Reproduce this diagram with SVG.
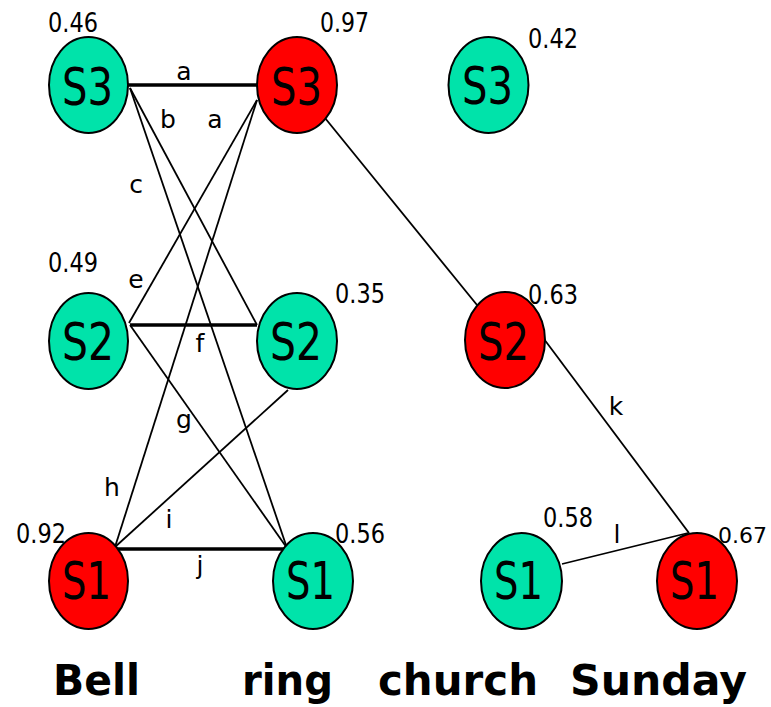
<svg xmlns="http://www.w3.org/2000/svg" width="771" height="707" viewBox="0 0 771 707">
<style>
.teal{fill:#00E3AA;stroke:#000;stroke-width:2}
.red{fill:#FF0000;stroke:#000;stroke-width:2}
.nl{font-family:"DejaVu Sans","Liberation Sans",sans-serif;font-size:51px;text-anchor:middle;fill:#000}
.sc{font-family:"DejaVu Sans","Liberation Sans",sans-serif;font-size:26px;fill:#000}
.el{font-family:"DejaVu Sans","Liberation Sans",sans-serif;font-size:25px;fill:#000;text-anchor:middle}
.w{font-family:"DejaVu Sans","Liberation Sans",sans-serif;font-size:43px;font-weight:bold;fill:#000}
.thin{stroke:#000;stroke-width:1.8;fill:none}
.thick{stroke:#000;stroke-width:3.5;fill:none}
</style>
<rect width="771" height="707" fill="#fff"/>
<g id="connectors">
<line class="thick" x1="128" y1="85" x2="257" y2="85"/>
<line class="thin" x1="130" y1="88" x2="257" y2="325"/>
<line class="thin" x1="130" y1="88" x2="287" y2="548"/>
<line class="thin" x1="257" y1="100" x2="129" y2="323"/>
<line class="thin" x1="257" y1="100" x2="115" y2="547"/>
<line class="thin" x1="325" y1="118" x2="477" y2="305"/>
<line class="thick" x1="130" y1="325" x2="257" y2="325"/>
<line class="thin" x1="130" y1="325" x2="287" y2="548"/>
<line class="thin" x1="288" y1="390" x2="115" y2="547"/>
<line class="thick" x1="115" y1="549" x2="287" y2="549"/>
<line class="thin" x1="544" y1="339" x2="689" y2="533"/>
<line class="thin" x1="562" y1="564" x2="688" y2="533"/>
<text class="el" x="184" y="80">a</text>
<text class="el" x="168" y="128">b</text>
<text class="el" x="215" y="128">a</text>
<text class="el" x="136" y="193">c</text>
<text class="el" x="136" y="288">e</text>
<text class="el" x="200" y="352">f</text>
<text class="el" x="184" y="428">g</text>
<text class="el" x="112" y="496">h</text>
<text class="el" x="169" y="528">i</text>
<text class="el" x="200" y="574">j</text>
<text class="el" x="616" y="415">k</text>
<text class="el" x="617" y="543">l</text>
</g>
<g id="bell-s3"><ellipse class="teal" cx="88.5" cy="85" rx="39.5" ry="48"/><text class="nl" x="87.5" y="105" textLength="51" lengthAdjust="spacingAndGlyphs">S3</text><text class="sc" x="48" y="32" textLength="50" lengthAdjust="spacingAndGlyphs">0.46</text></g>
<g id="ring-s3"><ellipse class="red" cx="297" cy="85" rx="40" ry="48"/><text class="nl" x="296.5" y="105" textLength="51" lengthAdjust="spacingAndGlyphs">S3</text><text class="sc" x="320" y="32" textLength="49" lengthAdjust="spacingAndGlyphs">0.97</text></g>
<g id="church-s3"><ellipse class="teal" cx="488.5" cy="85" rx="40" ry="48"/><text class="nl" x="487.5" y="104" textLength="51" lengthAdjust="spacingAndGlyphs">S3</text><text class="sc" x="528" y="48" textLength="50" lengthAdjust="spacingAndGlyphs">0.42</text></g>
<g id="bell-s2"><ellipse class="teal" cx="88.5" cy="341" rx="39.5" ry="48"/><text class="nl" x="88" y="360" textLength="52" lengthAdjust="spacingAndGlyphs">S2</text><text class="sc" x="48" y="272" textLength="50" lengthAdjust="spacingAndGlyphs">0.49</text></g>
<g id="ring-s2"><ellipse class="teal" cx="297" cy="341" rx="40" ry="48"/><text class="nl" x="296" y="360" textLength="52" lengthAdjust="spacingAndGlyphs">S2</text><text class="sc" x="335" y="303" textLength="50" lengthAdjust="spacingAndGlyphs">0.35</text></g>
<g id="church-s2"><ellipse class="red" cx="505" cy="340" rx="40" ry="48"/><text class="nl" x="503.5" y="360" textLength="51" lengthAdjust="spacingAndGlyphs">S2</text><text class="sc" x="528" y="304" textLength="50" lengthAdjust="spacingAndGlyphs">0.63</text></g>
<g id="bell-s1"><ellipse class="red" cx="88.5" cy="581" rx="39.5" ry="48"/><text class="nl" x="86.5" y="599" textLength="49" lengthAdjust="spacingAndGlyphs">S1</text><text class="sc" x="16" y="543" textLength="50" lengthAdjust="spacingAndGlyphs">0.92</text></g>
<g id="ring-s1"><ellipse class="teal" cx="313" cy="581" rx="40" ry="48"/><text class="nl" x="310.5" y="599" textLength="49" lengthAdjust="spacingAndGlyphs">S1</text><text class="sc" x="335" y="543" textLength="50" lengthAdjust="spacingAndGlyphs">0.56</text></g>
<g id="church-s1"><ellipse class="teal" cx="521.5" cy="581" rx="40.5" ry="48"/><text class="nl" x="518.5" y="599" textLength="49" lengthAdjust="spacingAndGlyphs">S1</text><text class="sc" x="543" y="527" textLength="50" lengthAdjust="spacingAndGlyphs">0.58</text></g>
<g id="sunday-s1"><ellipse class="red" cx="697" cy="581" rx="40" ry="48"/><text class="nl" x="694.5" y="599" textLength="49" lengthAdjust="spacingAndGlyphs">S1</text><text class="sc" x="718" y="543" style="font-size:22px">0.67</text></g>
<g id="words">
<text class="w" x="53" y="695" textLength="87" lengthAdjust="spacingAndGlyphs">Bell</text>
<text class="w" x="242" y="695" textLength="91" lengthAdjust="spacingAndGlyphs">ring</text>
<text class="w" x="378" y="695" textLength="160" lengthAdjust="spacingAndGlyphs">church</text>
<text class="w" x="570" y="695" textLength="177" lengthAdjust="spacingAndGlyphs">Sunday</text>
</g>
</svg>
